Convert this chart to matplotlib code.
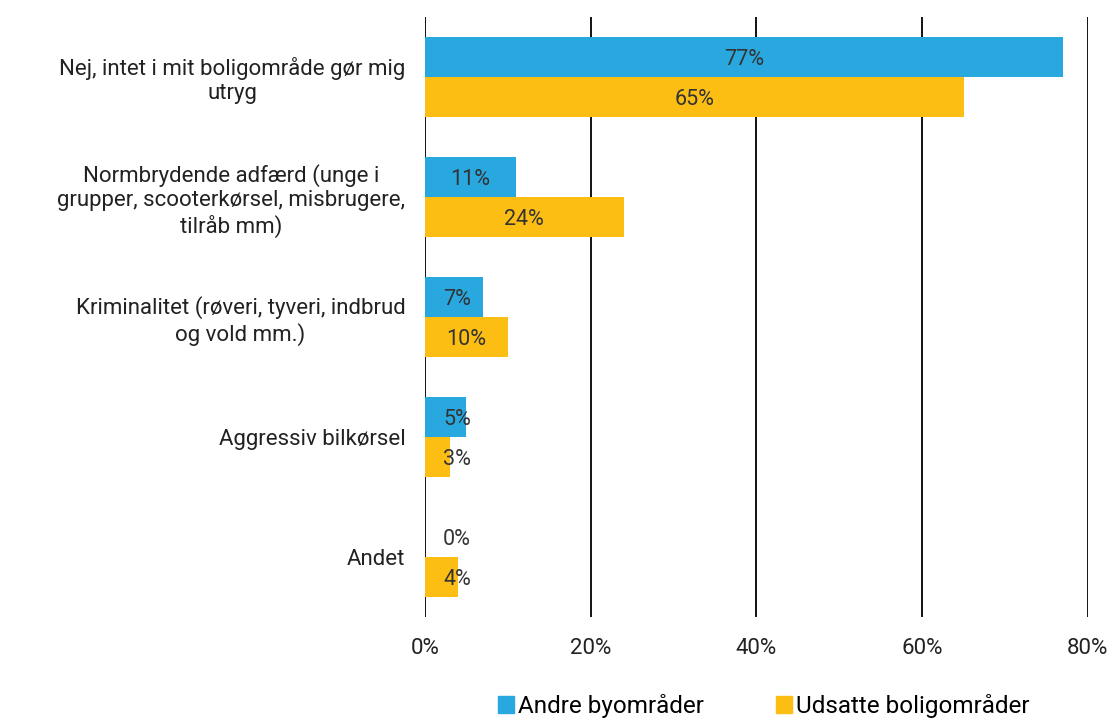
import matplotlib
matplotlib.use("Agg")
import matplotlib.pyplot as plt
from matplotlib.patches import Patch

plt.rcParams['font.family'] = ['Roboto', 'DejaVu Sans']

categories = [
    "Nej, intet i mit boligområde gør mig\nutryg",
    "Normbrydende adfærd (unge i\ngrupper, scooterkørsel, misbrugere,\ntilråb mm)",
    "Kriminalitet (røveri, tyveri, indbrud\nog vold mm.)",
    "Aggressiv bilkørsel",
    "Andet",
]
andre = [77, 11, 7, 5, 0]
udsatte = [65, 24, 10, 3, 4]
series_names = ["Andre byområder", "Udsatte boligområder"]
colors = ["#29A8E0", "#FDBE14"]
xticks = [0, 20, 40, 60, 80]

fig = plt.figure(figsize=(11.15, 7.24), dpi=100)
ax = fig.add_axes([0.381, 0.148, 0.5947, 0.829])

h = 1 / 3
pos = list(range(len(categories)))
ax.barh([p - h / 2 for p in pos], andre, height=h, color=colors[0], zorder=3)
ax.barh([p + h / 2 for p in pos], udsatte, height=h, color=colors[1], zorder=3)

# labels sit in the middle of the bar, but never closer to the axis than ~3.9%
for i in pos:
    for v, off in ((andre[i], -h / 2), (udsatte[i], h / 2)):
        ax.text(max(v / 2, 3.9), i + off + 0.02, f"{v}%", ha='center', va='center',
                fontsize=15.5, color='#333333', zorder=4)

ax.set_ylim(4.5, -0.5)
ax.set_xlim(0, 80)
ax.set_xticks(xticks)
ax.set_xticklabels([f"{t}%" for t in xticks], fontsize=16, color='#222222')
ax.set_yticks(pos)
ax.set_yticklabels(categories, fontsize=16, color='#222222', linespacing=1.2,
                   multialignment='center')
ax.tick_params(axis='both', length=0)
ax.tick_params(axis='y', pad=14)
ax.tick_params(axis='x', pad=15)
for s in ax.spines.values():
    s.set_visible(False)
ax.grid(axis='x', color='black', linewidth=1.3, zorder=0)

handles = [Patch(color=c) for c in colors]
fig.legend(handles, series_names, loc='lower center', bbox_to_anchor=(0.685, -0.022), ncol=2,
           frameon=False, fontsize=17.5, handlelength=0.65, handleheight=0.65,
           handletextpad=0.15, columnspacing=3.0)

fig.savefig("out.png", dpi=100)
